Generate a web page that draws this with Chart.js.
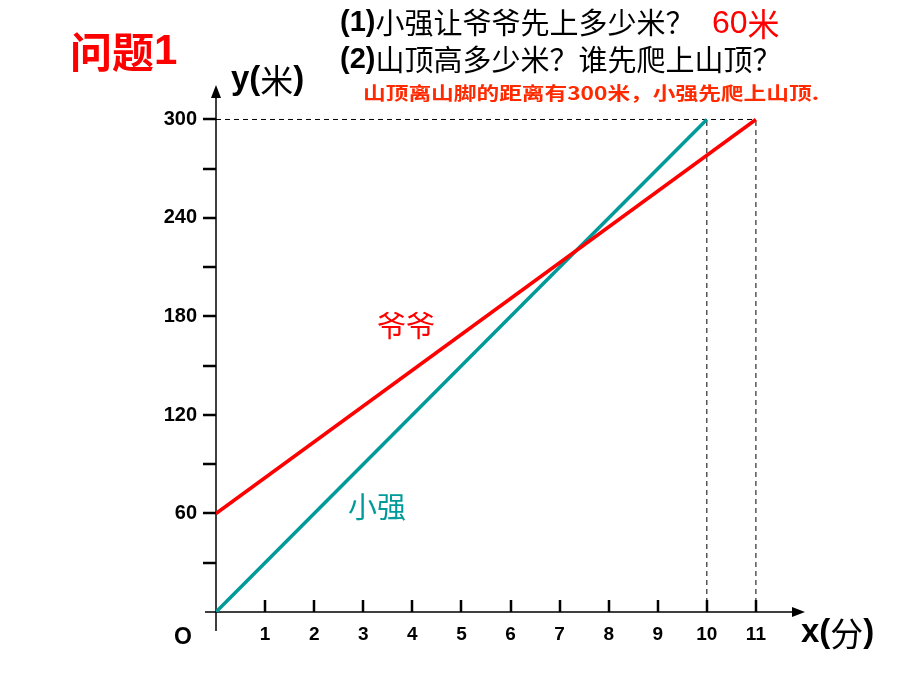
<!DOCTYPE html>
<html>
<head>
<meta charset="utf-8">
<script src="https://cdn.jsdelivr.net/npm/chart.js@4"></script>
<style>
  html, body { margin: 0; padding: 0; background: #fff; }
  .box { width: 920px; height: 690px; position: relative; }
</style>
</head>
<body>
<div class="box"><canvas id="grafico"></canvas></div>
<script>
// 小强: 从山脚出发, 10分钟到山顶
const xiaoqiangX = [0, 10];
const xiaoqiangY = [0, 300];
// 爷爷: 先上60米, 11分钟到山顶
const yeyeX = [0, 11];
const yeyeY = [60, 300];

const xTickValues = [1, 2, 3, 4, 5, 6, 7, 8, 9, 10, 11];
const yTickValues = [60, 120, 180, 240, 300];
const yMinorTicks = [30, 90, 150, 210, 270];

const xMax = 12;
const yMax = 321;

const TEAL = '#009a9a';
const RED = '#ff0000';
const ORANGE_RED = '#ff2a00';
const LATIN = "'Liberation Sans', Arial, sans-serif";
const CJK = "'Noto Sans CJK SC', sans-serif";

function pontos(xs, ys) {
    return xs.map((v, i) => ({ x: v, y: ys[i] }));
}

// texto em pedaços (fontes diferentes na mesma linha)
function escreverPartes(ctx, x, y, partes) {
    partes.forEach(p => {
        ctx.font = p.font;
        ctx.fillStyle = p.color;
        ctx.fillText(p.text, x, y);
        x += ctx.measureText(p.text).width;
    });
}

function escreverEsticado(ctx, texto, x, y, largura) {
    const w = ctx.measureText(texto).width;
    ctx.save();
    ctx.translate(x, y);
    ctx.scale(largura / w, 1);
    ctx.fillText(texto, 0, 0);
    ctx.restore();
}

const eixos = {
    id: 'eixos',
    beforeDatasetsDraw(chart) {
        const { ctx, scales: { x, y } } = chart;
        const x0 = x.getPixelForValue(0);
        const y0 = y.getPixelForValue(0);
        const xEnd = x.getPixelForValue(xMax);
        const yEnd = y.getPixelForValue(yMax);

        ctx.save();
        ctx.strokeStyle = '#000';
        ctx.fillStyle = '#000';
        ctx.lineWidth = 1.5;
        ctx.beginPath();
        ctx.moveTo(x0 - 11, y0);
        ctx.lineTo(xEnd - 6, y0);
        ctx.moveTo(x0, y0 + 19);
        ctx.lineTo(x0, yEnd + 6);
        ctx.stroke();

        // setas
        ctx.beginPath();
        ctx.moveTo(xEnd, y0);
        ctx.lineTo(xEnd - 13, y0 - 5);
        ctx.lineTo(xEnd - 13, y0 + 5);
        ctx.closePath();
        ctx.fill();
        ctx.beginPath();
        ctx.moveTo(x0, yEnd);
        ctx.lineTo(x0 - 5, yEnd + 13);
        ctx.lineTo(x0 + 5, yEnd + 13);
        ctx.closePath();
        ctx.fill();

        // marcas
        ctx.lineWidth = 2.5;
        ctx.beginPath();
        xTickValues.forEach(v => {
            const px = Math.round(x.getPixelForValue(v));
            ctx.moveTo(px, y0);
            ctx.lineTo(px, y0 - 12);
        });
        yTickValues.concat(yMinorTicks).forEach(v => {
            const py = Math.round(y.getPixelForValue(v));
            ctx.moveTo(x0, py);
            ctx.lineTo(x0 - 13, py);
        });
        ctx.stroke();
        ctx.restore();
    },
    afterDatasetsDraw(chart) {
        const { ctx, scales: { x, y } } = chart;
        ctx.save();
        ctx.textBaseline = 'middle';
        ctx.textAlign = 'left';

        escreverPartes(ctx, 70, 52, [
            { text: '问题', font: 'bold 42px ' + CJK, color: RED },
            { text: '1', font: 'bold 42px ' + LATIN, color: RED }
        ]);

        escreverPartes(ctx, 340, 23, [
            { text: '(1)', font: 'bold 29px ' + LATIN, color: '#000' },
            { text: '小强让爷爷先上多少米？', font: '29px ' + CJK, color: '#000' }
        ]);
        escreverPartes(ctx, 712, 24, [
            { text: '60', font: '32px ' + LATIN, color: RED },
            { text: '米', font: '32px ' + CJK, color: RED }
        ]);
        escreverPartes(ctx, 340, 60, [
            { text: '(2)', font: 'bold 29px ' + LATIN, color: '#000' },
            { text: '山顶高多少米？谁先爬上山顶？', font: '29px ' + CJK, color: '#000' }
        ]);

        ctx.font = 'bold 18px ' + CJK;
        ctx.fillStyle = ORANGE_RED;
        escreverEsticado(ctx, '山顶离山脚的距离有300米，小强先爬上山顶.', 363, 93, 456);

        escreverPartes(ctx, 231, 80, [
            { text: 'y(', font: 'bold 33px ' + LATIN, color: '#000' },
            { text: '米', font: '33px ' + CJK, color: '#000' },
            { text: ')', font: 'bold 33px ' + LATIN, color: '#000' }
        ]);
        escreverPartes(ctx, 801, 633, [
            { text: 'x(', font: 'bold 33px ' + LATIN, color: '#000' },
            { text: '分', font: '33px ' + CJK, color: '#000' },
            { text: ')', font: 'bold 33px ' + LATIN, color: '#000' }
        ]);

        ctx.textAlign = 'center';
        ctx.font = 'bold 23px ' + LATIN;
        ctx.fillStyle = '#000';
        ctx.fillText('O', 183, 638);

        ctx.font = '29px ' + CJK;
        ctx.fillStyle = RED;
        ctx.fillText('爷爷', x.getPixelForValue(3.87), y.getPixelForValue(174));
        ctx.fillStyle = TEAL;
        ctx.fillText('小强', x.getPixelForValue(3.28), y.getPixelForValue(64));
        ctx.restore();
    }
};

const tracejado = { borderColor: '#000', borderWidth: 1, borderDash: [5, 4], pointRadius: 0, showLine: true };

const config = {
    type: 'scatter',
    data: {
        datasets: [
            {
                label: '爷爷',
                data: pontos(yeyeX, yeyeY),
                borderColor: RED, borderWidth: 3.5, pointRadius: 0, showLine: true, order: 0
            },
            {
                label: '小强',
                data: pontos(xiaoqiangX, xiaoqiangY),
                borderColor: TEAL, borderWidth: 3.5, pointRadius: 0, showLine: true, order: 1
            },
            Object.assign({ data: [{ x: 0, y: yeyeY[1] }, { x: yeyeX[1], y: yeyeY[1] }], order: 2 }, tracejado),
            Object.assign({ data: [{ x: xiaoqiangX[1], y: 0 }, { x: xiaoqiangX[1], y: xiaoqiangY[1] }], order: 2 }, tracejado),
            Object.assign({ data: [{ x: yeyeX[1], y: 0 }, { x: yeyeX[1], y: yeyeY[1] }], order: 2 }, tracejado)
        ]
    },
    options: {
        responsive: true,
        maintainAspectRatio: false,
        animation: false,
        layout: { padding: { top: 85, right: 115, left: 0, bottom: 0 } },
        plugins: { legend: { display: false }, tooltip: { enabled: false } },
        scales: {
            x: {
                type: 'linear', min: 0, max: xMax,
                grid: { display: false, drawTicks: false },
                border: { display: false },
                afterBuildTicks: scale => { scale.ticks = xTickValues.map(v => ({ value: v })); },
                afterFit: scale => { scale.height = 78; },
                ticks: {
                    padding: 11, color: '#000', maxRotation: 0, autoSkip: false,
                    font: { family: LATIN, weight: 'bold', size: 19 }
                }
            },
            y: {
                type: 'linear', min: 0, max: yMax,
                grid: { display: false, drawTicks: false },
                border: { display: false },
                afterBuildTicks: scale => { scale.ticks = yTickValues.map(v => ({ value: v })); },
                afterFit: scale => { scale.width = 216; },
                ticks: {
                    padding: 19, color: '#000', autoSkip: false,
                    font: { family: LATIN, weight: 'bold', size: 20 }
                }
            }
        }
    },
    plugins: [eixos]
};

new Chart(document.getElementById('grafico').getContext('2d'), config);
</script>
</body>
</html>
